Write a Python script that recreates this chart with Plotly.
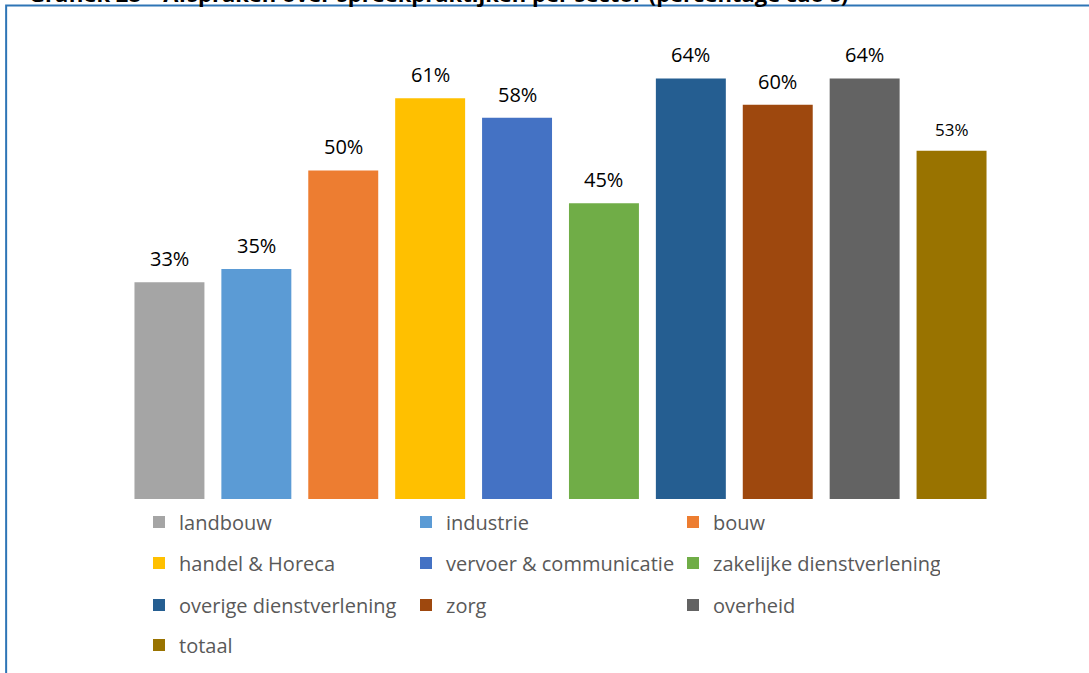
import plotly.graph_objects as go

categories = ["landbouw", "industrie", "bouw", "handel & Horeca", "vervoer & communicatie",
              "zakelijke dienstverlening", "overige dienstverlening", "zorg", "overheid", "totaal"]
values = [33, 35, 50, 61, 58, 45, 64, 60, 64, 53]
labels = ["33%", "35%", "50%", "61%", "58%", "45%", "64%", "60%", "64%", "53%"]
colors = ["#A5A5A5", "#5B9BD5", "#ED7D31", "#FFC000", "#4472C4",
          "#70AD47", "#255E91", "#9E480E", "#636363", "#997300"]
label_sizes = [20, 20, 20, 20, 20, 20, 20, 20, 20, 17]
legend_rows = ["legend", "legend", "legend", "legend2", "legend2", "legend2",
               "legend3", "legend3", "legend3", "legend4"]
title_text = "Grafiek 28 – Afspraken over spreekpraktijken per sector (percentage cao's)"

W, H = 1089, 673
ml, mr, mt, mb = 125.5, 93.5, 39, 174
plot_w = W - ml - mr
plot_h = H - mt - mb

fig = go.Figure()
for cat, val, col, lg in zip(categories, values, colors, legend_rows):
    fig.add_trace(go.Bar(x=[cat], y=[val], name=cat, marker_color=col,
                         marker_line_width=0, width=0.805, legend=lg,
                         hoverinfo="skip"))

for cat, val, lab, fs in zip(categories, values, labels, label_sizes):
    fig.add_annotation(x=cat, y=val, text=lab, showarrow=False, yanchor="bottom",
                       xanchor="center", yshift=8,
                       font=dict(family="Open Sans", size=fs, color="#000000"))

def px_to_paper_x(px):
    return (px - ml) / plot_w

def px_to_paper_y(py):
    return (H - mb - py) / plot_h

fig.add_annotation(xref="paper", yref="paper", x=px_to_paper_x(26), y=px_to_paper_y(9.5),
                   xanchor="left", yanchor="bottom", showarrow=False, text="<b>" + title_text + "</b>",
                   font=dict(family="Open Sans", size=22, color="#000000"))

fig.add_shape(type="rect", xref="paper", yref="paper",
              x0=px_to_paper_x(5.5), x1=2, y0=-1, y1=px_to_paper_y(5.5),
              line=dict(color="#2E75B6", width=2), fillcolor="rgba(0,0,0,0)", layer="above")

legend_common = dict(orientation="h", xref="container", yref="container",
                     x=139 / W, xanchor="left", yanchor="middle",
                     entrywidth=222, entrywidthmode="pixels", traceorder="normal",
                     bgcolor="rgba(0,0,0,0)",
                     font=dict(family="Open Sans", size=20, color="#595959"))
row_centers = [522, 563, 605, 645]

fig.update_layout(
    width=W, height=H,
    margin=dict(l=ml, r=mr, t=mt, b=mb),
    paper_bgcolor="white", plot_bgcolor="white",
    barmode="overlay",
    showlegend=True,
    xaxis=dict(visible=False, range=[-0.5, 9.5]),
    yaxis=dict(visible=False, range=[0, 70]),
    legend=dict(legend_common, y=1 - row_centers[0] / H),
    legend2=dict(legend_common, y=1 - row_centers[1] / H),
    legend3=dict(legend_common, y=1 - row_centers[2] / H),
    legend4=dict(legend_common, y=1 - row_centers[3] / H),
)

fig.write_html("out.html", config={"displayModeBar": False},
               post_script="document.body.style.margin='0';")
